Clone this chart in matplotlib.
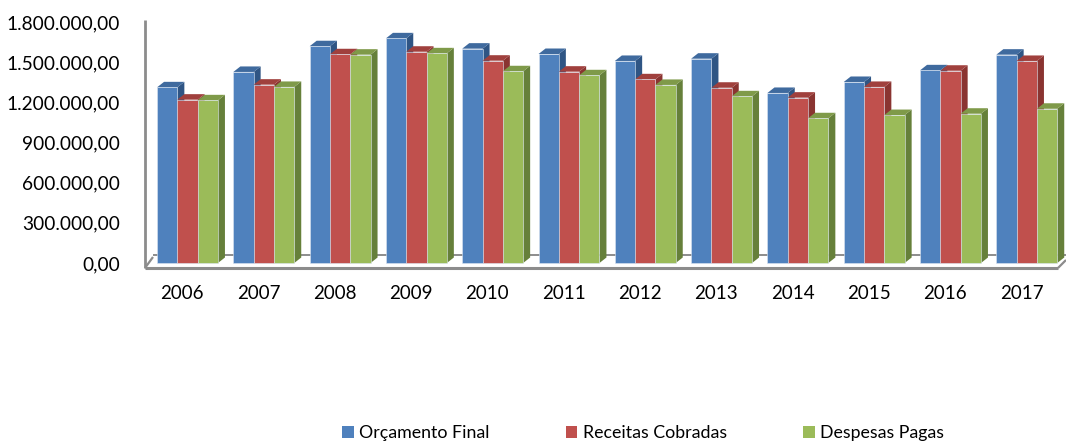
import matplotlib.pyplot as plt
from matplotlib.patches import Polygon, Patch
from matplotlib.ticker import FuncFormatter

plt.rcParams['font.family'] = ['Lato', 'DejaVu Sans']

anos = ['2006', '2007', '2008', '2009', '2010', '2011',
        '2012', '2013', '2014', '2015', '2016', '2017']
orcamento_final = [1312000, 1427000, 1619000, 1678000, 1601000, 1561000,
                   1509000, 1526000, 1270000, 1352000, 1439000, 1556000]
receitas_cobradas = [1220000, 1332000, 1559000, 1578000, 1511000, 1429000,
                     1372000, 1309000, 1235000, 1315000, 1436000, 1509000]
despesas_pagas = [1215000, 1315000, 1556000, 1566000, 1432000, 1402000,
                  1330000, 1245000, 1081000, 1105000, 1115000, 1152000]
series = ['Orçamento Final', 'Receitas Cobradas', 'Despesas Pagas']

# front, top, side colours for each series
cores = [('#4F81BD', '#3F6A9E', '#2F5584'),
         ('#C0504D', '#A0403D', '#8A3431'),
         ('#9BBB59', '#7F9A49', '#66803A')]

W, H = 1066, 443
fig = plt.figure(figsize=(W / 100, H / 100), dpi=100)
ax = fig.add_axes([145 / W, (H - 270) / H, 921 / W, 255 / H])

# axis scale: 0 sits at y=263px, 1.8M at y=22px
yrange = 1800000 * 255 / 241
ymin = -7 / 255 * yrange
ymax = ymin + yrange
px = 76.3                      # pixels per category
xmin = -(187.5 - 145) / px
xmax = xmin + 921 / px
ax.set_xlim(xmin, xmax)
ax.set_ylim(ymin, ymax)


def dx(p):
    return p / px


def dy(p):
    return p / 255 * yrange


def xp(p):
    return xmin + (p - 145) / px


def yp(p):
    return ymin + (270 - p) / 255 * yrange


largura = 0.266
prof_x, prof_y = dx(7), dy(5.5)

# floor and wall outline
linha = dict(color='#8C8C8C', clip_on=False, solid_capstyle='butt')
ax.plot([xp(153), xp(1066)], [yp(255), yp(255)], lw=1.4, zorder=1, **linha)
ax.plot([xp(145), xp(153)], [yp(268), yp(257)], lw=1.6, zorder=1, **linha)
ax.plot([xp(145), xp(1058)], [yp(268), yp(268)], lw=2.2, zorder=50, **linha)
ax.plot([xp(1058), xp(1066)], [yp(268), yp(260)], lw=1.6, zorder=50, **linha)
ax.plot([xp(145), xp(145)], [yp(20), yp(268)], lw=2.0, zorder=50, **linha)

z = 2
for i in range(len(anos)):
    for k, valores in enumerate([orcamento_final, receitas_cobradas, despesas_pagas]):
        v = valores[i]
        x0 = i + (k - 1) * largura - largura / 2
        x1 = x0 + largura
        frente, topo, lado = cores[k]
        ax.add_patch(Polygon([(x1, 0), (x1, v), (x1 + prof_x, v + prof_y),
                              (x1 + prof_x, prof_y)], closed=True,
                             facecolor=lado, edgecolor='none', zorder=z))
        ax.add_patch(Polygon([(x0, v), (x1, v), (x1 + prof_x, v + prof_y),
                              (x0 + prof_x, v + prof_y)], closed=True,
                             facecolor=topo, edgecolor='none', zorder=z))
        ax.bar(x0, v, width=largura, align='edge', color=frente,
               edgecolor='#DCE6F2', linewidth=0.4, zorder=z + 1)
        z += 2

for s in ax.spines.values():
    s.set_visible(False)


def fmt_br(v, pos):
    return f'{v:,.2f}'.replace(',', 'X').replace('.', ',').replace('X', '.')


ax.set_yticks([0, 300000, 600000, 900000, 1200000, 1500000, 1800000])
ax.yaxis.set_major_formatter(FuncFormatter(fmt_br))
ax.tick_params(axis='y', length=0, pad=18, labelsize=13.8)
ax.set_xticks([i - 0.07 for i in range(len(anos))])
ax.set_xticklabels(anos)
ax.tick_params(axis='x', length=0, pad=11, labelsize=13.5)

handles = [Patch(facecolor=c[0], edgecolor='none') for c in cores]
fig.legend(handles, series, loc='center', bbox_to_anchor=(643 / W, 1 - 433 / H),
           ncol=3, frameon=False, fontsize=12.8, handlelength=0.65,
           handleheight=0.65, handletextpad=0.3, columnspacing=4.3)

fig.savefig('out.png', dpi=100)
